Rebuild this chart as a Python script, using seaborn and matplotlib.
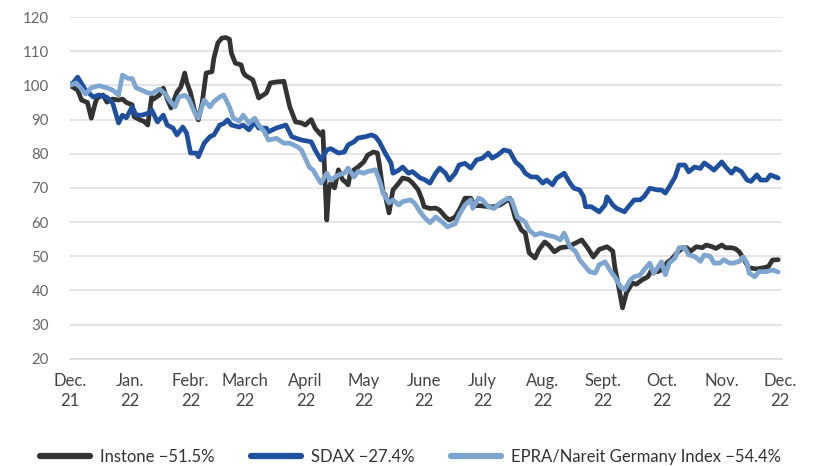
import matplotlib
matplotlib.use("Agg")
import matplotlib.pyplot as plt
import pandas as pd
import seaborn as sns

# day offsets from 1 Dec 2021 and index values (start = 100)
instone_days = [0, 4, 6, 9, 11, 13, 14, 17, 19, 22,
                25, 27, 29, 32, 33, 36, 38, 40, 42, 43,
                46, 48, 50, 52, 55, 57, 59, 60, 62, 64,
                66, 68, 70, 73, 74, 76, 78, 80, 82, 83,
                85, 88, 89, 90, 94, 97, 101, 103, 106, 110,
                111, 113, 116, 119, 121, 124, 126, 129, 130, 132,
                133, 134, 136, 138, 140, 142, 143, 144, 146, 148,
                151, 153, 156, 158, 159, 161, 162, 164, 166, 169,
                171, 174, 176, 179, 181, 182, 185, 188, 190, 193,
                195, 198, 201, 203, 206, 208, 211, 215, 218, 221,
                225, 226, 229, 230, 232, 234, 236, 239, 241, 244,
                246, 249, 252, 256, 260, 263, 266, 269, 272, 276,
                279, 280, 282, 284, 286, 289, 291, 294, 297, 299,
                302, 304, 307, 309, 312, 315, 317, 319, 322, 325,
                327, 330, 332, 335, 337, 340, 342, 344, 346, 348,
                349, 353, 356, 359, 361, 364]
instone = [100, 98.6, 95.7, 95, 90.4, 94.8, 96.3, 97.2, 95.1, 96,
           95.7, 96, 95, 94.3, 90.8, 89.9, 89.5, 88.4, 96.6, 96,
           97.2, 99.2, 96, 93.4, 98, 99.5, 103.6, 101, 97.8, 92.8,
           89.9, 95, 103.6, 104, 108, 112.4, 113.8, 114, 113.5, 109.4,
           106.5, 106, 103.9, 103, 101.6, 96.3, 97.8, 100.7, 101, 101.2,
           98.6, 93.7, 89.3, 89, 88.4, 90, 87.5, 85.5, 86.5, 60.6,
           69.4, 71.4, 70, 75.3, 72.5, 71.5, 70.9, 74, 75.3, 76.1,
           77.6, 79.6, 80.5, 80.2, 77, 68.5, 68, 62.7, 69.4, 71.4,
           72.9, 72.5, 71.5, 69.4, 66.5, 64.5, 64, 64.1, 63.5, 61.5,
           60.6, 61.5, 64.5, 67, 67, 64.8, 64.8, 64.5, 64.5, 65,
           66.5, 67, 61, 60, 57.7, 56.8, 51, 49.5, 51.9, 54.2,
           53.3, 51.3, 52.5, 52.8, 53.9, 54.8, 52.5, 49.8, 52, 52.8,
           51.5, 46.9, 41.1, 34.9, 39.3, 42.2, 41.8, 43.1, 44, 46,
           45.5, 46, 48.2, 49, 51, 52.5, 52.5, 51.5, 52.8, 52.5,
           53.3, 52.8, 52.3, 53.3, 52.5, 52.5, 52.2, 51.3, 49.5, 47.5,
           46.6, 46.3, 46.6, 47, 48.9, 49]

sdax_days = [0, 2, 4, 8, 12, 15, 19, 22, 25, 27,
             29, 32, 34, 37, 40, 42, 45, 48, 50, 53,
             55, 58, 60, 62, 65, 66, 69, 72, 74, 77,
             79, 81, 83, 87, 89, 92, 95, 97, 101, 102,
             106, 111, 114, 119, 124, 126, 129, 132, 134, 138,
             141, 143, 146, 148, 152, 155, 157, 159, 162, 165,
             166, 169, 171, 174, 176, 180, 182, 185, 188, 190,
             193, 195, 198, 200, 203, 206, 209, 212, 215, 217,
             220, 223, 226, 229, 232, 234, 237, 240, 243, 245,
             248, 250, 254, 257, 259, 262, 264, 265, 268, 272,
             275, 276, 279, 281, 285, 287, 290, 293, 295, 298,
             302, 304, 306, 308, 311, 313, 316, 318, 321, 324,
             326, 329, 331, 335, 337, 340, 342, 345, 348, 350,
             353, 355, 358, 360, 364]
sdax = [100, 101, 102.4, 98.6, 96.6, 97.2, 96.5, 94.8, 89, 91.3,
        90.5, 93.7, 91.3, 91.3, 91.8, 92.8, 89.3, 91.3, 88.4, 87.5,
        85.5, 87.8, 86, 80.2, 80.2, 79.1, 83.1, 85, 85.5, 88.4,
        88.8, 89.9, 88.4, 87.8, 88.4, 87, 89.3, 87.5, 87.5, 86.4,
        87.5, 88.4, 85, 84, 83.5, 81.1, 78.2, 81.1, 81.5, 80.2,
        80.5, 82.6, 83.5, 84.6, 85, 85.5, 85, 83.5, 80.2, 77.3,
        74.3, 75.2, 76.1, 74.3, 74.8, 72.9, 72.5, 71.4, 74.3, 75.8,
        74.3, 72.3, 74.3, 76.7, 77.2, 75.8, 78.2, 78.7, 80.2, 78.7,
        79.7, 81.1, 80.7, 77.6, 76.1, 74.3, 73.2, 73.2, 71.4, 72.3,
        70.9, 72.8, 74.3, 71.4, 69.9, 69.4, 67.4, 64.5, 64.5, 63,
        65, 67.4, 65, 64, 63, 64.5, 66.5, 66.5, 67.4, 69.9,
        69.4, 69.4, 68.5, 70.3, 73.2, 76.7, 76.7, 74.7, 76.1, 75.7,
        77.3, 76.1, 75.2, 77.6, 76.1, 74.3, 75.7, 74.8, 72.3, 71.9,
        73.8, 72.3, 72.3, 73.8, 72.9]

epra_days = [0, 3, 5, 8, 11, 15, 19, 22, 25, 27,
             30, 32, 34, 37, 40, 42, 46, 49, 51, 54,
             56, 59, 61, 64, 66, 69, 72, 74, 77, 79,
             82, 84, 87, 89, 92, 95, 97, 100, 102, 106,
             110, 113, 117, 119, 123, 125, 127, 129, 132, 134,
             138, 141, 143, 146, 148, 151, 153, 157, 159, 161,
             164, 166, 169, 171, 175, 177, 180, 182, 185, 188,
             191, 194, 198, 200, 203, 206, 207, 210, 212, 215,
             218, 221, 225, 227, 230, 234, 236, 239, 242, 245,
             249, 252, 254, 257, 260, 262, 265, 267, 270, 272,
             275, 278, 280, 283, 285, 288, 290, 293, 295, 298,
             300, 303, 304, 306, 308, 311, 313, 316, 318, 321,
             324, 326, 329, 331, 334, 336, 339, 341, 344, 346,
             348, 349, 352, 354, 358, 361, 364]
epra = [100, 100.7, 99.6, 97.5, 99.3, 99.9, 99.3, 98.6, 97.2, 103,
        102, 102, 99.3, 98.6, 97.8, 97.6, 98.9, 97.5, 95.7, 93.7,
        96.6, 97.1, 96.2, 92.2, 90.4, 95.7, 93.7, 95.3, 96.6, 97.2,
        93.7, 90.4, 89.5, 91.3, 89, 90.4, 88.4, 86.4, 84, 84.5,
        83.1, 83.1, 82, 81.1, 76.1, 75.2, 73.2, 71.4, 74.3, 72.3,
        73.8, 74.3, 75.8, 73.2, 74.8, 74.3, 74.8, 75.3, 72.3, 68.5,
        65.6, 66.5, 65, 66, 66.5, 65.6, 63, 61.5, 59.8, 61.5,
        60.2, 58.6, 59.5, 62.1, 65, 66.5, 64, 67, 66.5, 64.5,
        64, 65.6, 67, 66.5, 61.5, 60, 57.7, 56.2, 56.8, 56.2,
        55.7, 54.8, 56.8, 52.8, 51.3, 48.9, 46.9, 45.5, 45.1, 47.5,
        48.4, 45.5, 44, 41.1, 40.2, 43.1, 44, 44.5, 46, 48,
        45, 47.5, 48.4, 44.6, 48, 49.5, 52.5, 52.5, 50.4, 50,
        48.5, 50.4, 50, 48, 48, 49, 48, 48, 48.5, 49.8,
        48, 45.1, 44, 45.5, 45.5, 46, 45.4]

series_names = ["Instone \u221251.5%", "SDAX \u221227.4%",
                "EPRA/Nareit Germany Index \u221254.4%"]
series_colors = ["#333333", "#1f4f9f", "#7ea6d1"]

tick_labels = ["Dec.\n21", "Jan.\n22", "Febr.\n22", "March\n22", "April\n22", "May\n22",
               "June\n22", "July\n22", "Aug.\n22", "Sept.\n22", "Oct.\n22", "Nov.\n22",
               "Dec.\n22"]

start = pd.Timestamp("2021-12-01")
frames = []
for name, days, vals in zip(series_names,
                            [instone_days, sdax_days, epra_days],
                            [instone, sdax, epra]):
  frames.append(pd.DataFrame({"date": start + pd.to_timedelta(days, unit="D"),
                              "value": vals, "series": name}))
df = pd.concat(frames, ignore_index=True)

sns.set_style("white")
plt.rcParams["font.family"] = ["Lato", "DejaVu Sans"]

fig = plt.figure(figsize=(8.13, 4.66), dpi=100)
ax = fig.add_axes([0.086, 0.23, 0.876, 0.7335])

sns.lineplot(data=df, x="date", y="value", hue="series", hue_order=series_names,
             palette=series_colors, linewidth=3.4, ax=ax, legend=False)

ax.set_ylim(20, 120)
ax.set_yticks(range(20, 121, 10))
ax.set_xlim(start, pd.Timestamp("2022-12-02"))
ticks = pd.date_range("2021-12-01", "2022-12-01", freq="MS")
ax.set_xticks(ticks)
ax.set_xticklabels(tick_labels, linespacing=1.35)
ax.grid(axis="y", color="#e0e0e0", linewidth=1.2)
ax.set_axisbelow(True)
for s in ["left", "right", "top"]:
  ax.spines[s].set_visible(False)
ax.spines["bottom"].set_color("#dcdcdc")
ax.spines["bottom"].set_linewidth(1.2)
ax.tick_params(axis="x", colors="#dcdcdc", length=5, width=1.2, labelcolor="#444444",
               labelsize=12, pad=5)
ax.tick_params(axis="y", length=0, labelcolor="#666666", labelsize=10.8, pad=15)
ax.set_xlabel("")
ax.set_ylabel("")

handles = [plt.Line2D([], [], color=c, linewidth=4.5, solid_capstyle="round")
           for c in series_colors]
fig.legend(handles, series_names, loc="center", bbox_to_anchor=(0.505, 0.02),
           ncol=3, frameon=False, fontsize=12, handlelength=3.0, columnspacing=2.2,
           handletextpad=0.6, labelcolor="#333333")

fig.savefig("out.png", dpi=100)
